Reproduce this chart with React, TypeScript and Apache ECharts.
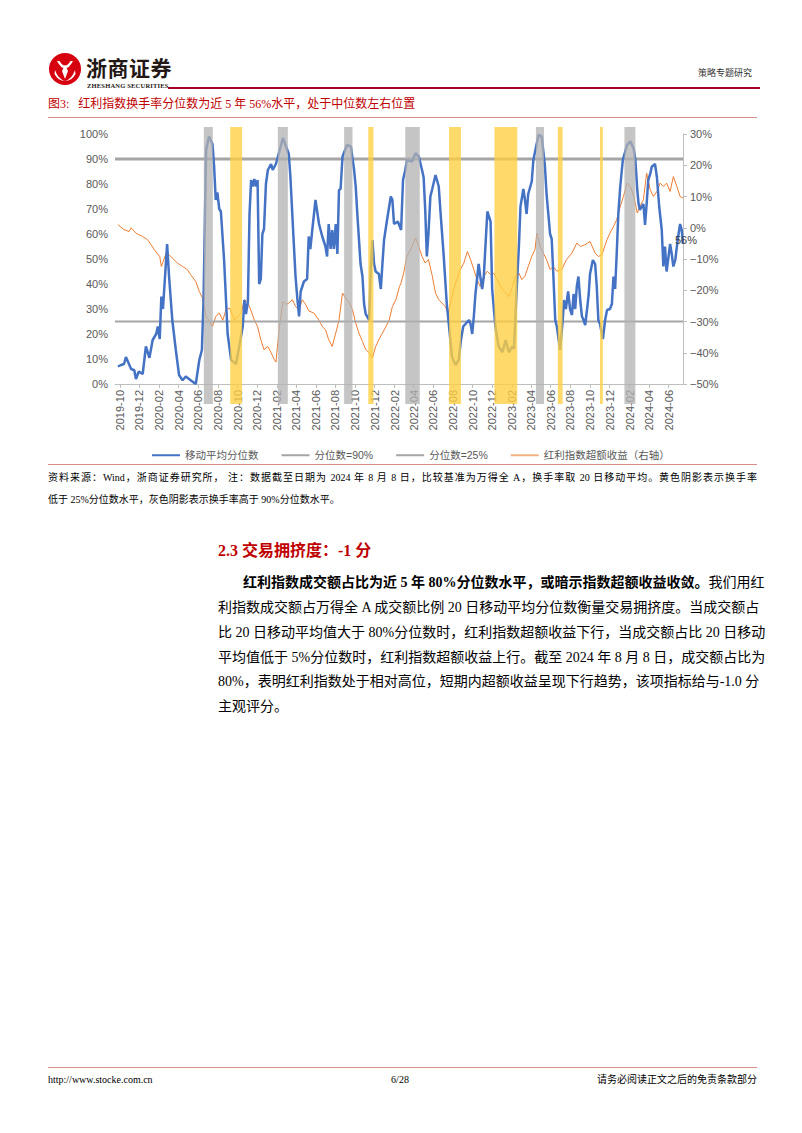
import React, { useEffect, useRef } from 'react';
import * as echarts from 'echarts';

// ---------- axis range (daily category axis) ----------
const AXIS_START = '2019-09-16';
const AXIS_END = '2024-07-16';

// ---------- turnover percentile (20d MA), left axis, % ----------
const turnoverDates = [
  '2019-09-25','2019-10-03','2019-10-14','2019-10-20','2019-11-05','2019-11-15','2019-11-20','2019-11-29','2019-12-11','2019-12-21',
  '2020-01-01','2020-01-11','2020-01-22','2020-01-27','2020-02-02','2020-02-07','2020-02-12','2020-02-17','2020-02-25','2020-03-02',
  '2020-03-12','2020-03-23','2020-04-02','2020-04-13','2020-04-23','2020-05-08','2020-05-24','2020-06-04','2020-06-12','2020-06-17',
  '2020-06-25','2020-07-04','2020-07-15','2020-07-20','2020-07-25','2020-07-30','2020-08-05','2020-08-10','2020-08-20','2020-08-31',
  '2020-09-11','2020-09-26','2020-10-06','2020-10-17','2020-10-22','2020-10-27','2020-11-02','2020-11-07','2020-11-12','2020-11-17',
  '2020-11-22','2020-11-27','2020-12-02','2020-12-07','2020-12-12','2020-12-17','2020-12-22','2020-12-28','2021-01-03','2021-01-13',
  '2021-01-18','2021-01-28','2021-02-19','2021-03-09','2021-03-14','2021-03-24','2021-03-30','2021-04-05','2021-04-10','2021-04-15',
  '2021-04-25','2021-05-05','2021-05-10','2021-05-15','2021-05-21','2021-05-31','2021-06-11','2021-06-21','2021-07-01','2021-07-06',
  '2021-07-11','2021-07-17','2021-07-22','2021-07-27','2021-08-02','2021-08-07','2021-08-12','2021-08-17','2021-08-23','2021-09-06',
  '2021-09-18','2021-09-28','2021-10-03','2021-10-08','2021-10-18','2021-10-24','2021-10-29','2021-11-03','2021-11-14','2021-11-19',
  '2021-11-24','2021-11-29','2021-12-04','2021-12-14','2021-12-20','2021-12-25','2021-12-30','2022-01-10','2022-01-20','2022-01-25',
  '2022-01-30','2022-02-11','2022-02-21','2022-02-27','2022-03-06','2022-03-11','2022-03-27','2022-04-07','2022-04-17','2022-04-27',
  '2022-05-02','2022-05-07','2022-05-12','2022-05-17','2022-05-23','2022-05-28','2022-06-08','2022-06-18','2022-06-23','2022-07-03',
  '2022-07-13','2022-07-18','2022-07-29','2022-08-09','2022-08-19','2022-08-26','2022-09-02','2022-09-09','2022-09-20','2022-09-25',
  '2022-09-30','2022-10-05','2022-10-10','2022-10-20','2022-10-25','2022-10-31','2022-11-05','2022-11-16','2022-11-21','2022-11-26',
  '2022-12-01','2022-12-11','2022-12-21','2023-01-02','2023-01-12','2023-01-22','2023-02-02','2023-02-07','2023-02-15','2023-02-22',
  '2023-02-27','2023-03-08','2023-03-13','2023-03-18','2023-03-23','2023-04-03','2023-04-08','2023-04-24','2023-05-04','2023-05-14',
  '2023-05-19','2023-05-30','2023-06-04','2023-06-09','2023-06-15','2023-06-20','2023-06-30','2023-07-08','2023-07-12','2023-07-18',
  '2023-07-25','2023-07-31','2023-08-06','2023-08-11','2023-08-16','2023-08-21','2023-08-26','2023-09-01','2023-09-06','2023-09-11',
  '2023-09-16','2023-09-22','2023-09-27','2023-10-01','2023-10-10','2023-10-17','2023-10-22','2023-10-27','2023-11-01','2023-11-10',
  '2023-11-17','2023-11-23','2023-12-02','2023-12-08','2023-12-13','2023-12-18','2023-12-23','2023-12-28','2024-01-03','2024-01-11',
  '2024-01-24','2024-02-04','2024-02-14','2024-02-19','2024-02-25','2024-02-29','2024-03-04','2024-03-10','2024-03-15','2024-03-20',
  '2024-03-25','2024-03-30','2024-04-05','2024-04-10','2024-04-20','2024-04-26','2024-05-03','2024-05-11','2024-05-16','2024-05-21',
  '2024-05-26','2024-06-01','2024-06-06','2024-06-11','2024-06-16','2024-06-22','2024-06-27','2024-07-01','2024-07-07','2024-07-12',
  '2024-07-16',
];
const turnoverPct = [
  7, 7.5, 8, 10.8, 6, 5.5, 2, 5, 4, 15,
  10.5, 17.6, 20, 23, 18, 35, 30, 40, 56, 43,
  25.6, 13.6, 3.6, 1.5, 3, 1.5, 0, 9.6, 13.6, 33,
  93.6, 99, 96, 87, 73.6, 76.6, 70, 69, 49.6, 20,
  9.6, 8, 15, 23, 33.6, 28, 33, 68, 81.6, 79,
  82, 79, 81.6, 40, 42, 60, 62, 80, 85.6, 88,
  85.6, 88, 98.4, 92, 83, 57.6, 43, 33.6, 27, 37,
  41, 42, 59, 54, 61.6, 73.6, 64, 59, 55, 51,
  64, 54, 61.6, 54, 64, 52, 77.6, 78, 91, 95.6,
  95, 85.6, 79, 68, 48, 43, 32, 28, 25.6, 47,
  57.6, 48, 45, 44, 38, 48, 57.6, 67, 75, 73.6,
  64, 65, 61.6, 81.6, 85.6, 89.6, 89, 92.3, 91, 85.6,
  82.7, 69.6, 51, 60, 75, 77.6, 83.6, 79, 69.6, 52,
  32, 25.6, 11, 7.6, 9.6, 17.6, 23, 24, 25.6, 24,
  20, 27, 36, 48, 43, 38, 43, 69, 67, 65,
  38, 23, 15, 12.7, 17.6, 12.7, 15, 14, 37.6, 55,
  71, 78, 73.6, 68, 76, 81, 89.6, 99.6, 99, 87,
  76, 60, 58, 44, 25.6, 23, 13.6, 25, 33.6, 30,
  37, 30, 27.6, 36, 30, 39, 43, 33, 27, 25.6,
  23.6, 30, 36, 44, 49.6, 48, 39, 25.6, 24, 18,
  25.6, 29.6, 30, 32, 43, 38, 52, 68, 79, 89.6,
  95.6, 97, 94, 89.6, 77.6, 72, 69.6, 71, 72, 63.6,
  72, 81.6, 84, 86.9, 88, 82.7, 71, 61.6, 47, 55,
  45, 51, 56, 52, 47, 49.6, 55, 59, 64, 61.6,
  56,
];

// ---------- dividend index excess return, right axis, % ----------
const excessDates = [
  '2019-09-25','2019-10-14','2019-10-30','2019-11-05','2019-11-20','2019-11-29','2019-12-11','2019-12-26','2020-01-06','2020-01-16',
  '2020-02-02','2020-02-07','2020-02-12','2020-02-22','2020-03-02','2020-03-12','2020-03-28','2020-04-13','2020-04-28','2020-05-08',
  '2020-05-24','2020-06-04','2020-06-14','2020-06-25','2020-07-04','2020-07-15','2020-07-25','2020-08-05','2020-08-16','2020-08-26',
  '2020-09-06','2020-09-21','2020-10-01','2020-10-12','2020-10-22','2020-11-02','2020-11-12','2020-11-22','2020-12-02','2020-12-12',
  '2020-12-22','2021-01-03','2021-01-13','2021-01-23','2021-01-28','2021-02-08','2021-02-19','2021-02-28','2021-03-09','2021-03-20',
  '2021-03-30','2021-04-10','2021-04-20','2021-04-30','2021-05-10','2021-05-26','2021-06-11','2021-06-21','2021-07-01','2021-07-11',
  '2021-07-22','2021-08-02','2021-08-12','2021-08-23','2021-09-02','2021-09-13','2021-09-23','2021-10-03','2021-10-13','2021-10-24',
  '2021-11-03','2021-11-14','2021-11-24','2021-12-04','2021-12-14','2021-12-25','2022-01-05','2022-01-15','2022-01-25','2022-02-05',
  '2022-02-16','2022-02-21','2022-03-01','2022-03-11','2022-03-27','2022-04-07','2022-04-17','2022-04-27','2022-05-07','2022-05-17',
  '2022-05-28','2022-06-08','2022-06-18','2022-06-28','2022-07-08','2022-07-18','2022-07-29','2022-08-09','2022-08-24','2022-09-04',
  '2022-09-15','2022-09-25','2022-10-05','2022-10-15','2022-10-25','2022-11-05','2022-11-16','2022-11-26','2022-12-06','2022-12-16',
  '2023-01-02','2023-01-12','2023-01-22','2023-02-02','2023-02-12','2023-02-22','2023-03-03','2023-03-13','2023-03-23','2023-04-03',
  '2023-04-13','2023-04-19','2023-04-29','2023-05-09','2023-05-19','2023-05-30','2023-06-09','2023-06-20','2023-07-05','2023-07-20',
  '2023-08-06','2023-08-21','2023-09-01','2023-09-16','2023-10-01','2023-10-17','2023-10-27','2023-11-07','2023-11-23','2023-12-02',
  '2023-12-13','2023-12-23','2024-01-03','2024-01-13','2024-01-24','2024-02-04','2024-02-14','2024-02-25','2024-03-04','2024-03-15',
  '2024-03-25','2024-04-05','2024-04-15','2024-04-26','2024-05-06','2024-05-16','2024-05-26','2024-06-06','2024-06-16','2024-06-27',
  '2024-07-07','2024-07-16',
];
const excessPct = [
  1, -0.6, -1.2, 0, -1.7, -2.2, -2.8, -3.8, -5.4, -7,
  -9.2, -12.4, -11, -8.1, -8.6, -9.7, -11.3, -12.4, -13.4, -15,
  -17.2, -20.4, -22.5, -28.4, -29.6, -31.6, -28.4, -27.3, -29.6, -26.2,
  -25.7, -29.6, -28.5, -27.3, -23, -24, -26.6, -29.6, -31.6, -35.8,
  -39, -38, -40, -42.2, -43, -31.6, -23.6, -24.5, -24.1, -23,
  -25.2, -26.2, -23, -24.5, -26.6, -27.3, -29.6, -31.6, -32.6, -35.8,
  -38, -33.7, -29.6, -20.9, -22.5, -24.1, -26.2, -30.5, -33.7, -36.4,
  -39, -40, -41.7, -38, -35.8, -33.7, -31.6, -29.6, -25.2, -23,
  -18.8, -17.7, -14.5, -9.2, -6, -3.3, -6, -9.2, -11.3, -10.2,
  -15, -20.9, -23, -24.1, -25.2, -27.3, -22, -17.7, -13.4, -11.3,
  -7.6, -10.2, -13.4, -16.6, -18.8, -15.5, -13.9, -15, -14.5, -16.6,
  -19.8, -20.9, -22, -18.8, -15.5, -14.5, -16.6, -15.5, -12.4, -9.2,
  -7, -1.7, -6, -8.1, -10.2, -13.4, -12.4, -13.9, -13.4, -10.2,
  -8.1, -4.9, -6, -5.4, -4.4, -8.1, -9.2, -8.6, -3.8, -1.7,
  0.4, 2.6, 6.8, 10, 14.3, 13.2, 10, 4.7, 6.8, 9,
  17.5, 12.2, 10, 11.6, 14.3, 13.2, 14.3, 11.6, 16.4, 13.2,
  10, 9.5,
];

// ---------- thresholds ----------
const P90 = 90;
const P25 = 25;

// ---------- shaded periods ----------
const highTurnoverPeriods = [ // turnover above 90th percentile (grey)
  ['2020-06-18', '2020-07-16'],
  ['2021-02-03', '2021-03-06'],
  ['2021-08-28', '2021-09-23'],
  ['2022-03-06', '2022-04-20'],
  ['2023-04-16', '2023-05-11'],
  ['2024-01-16', '2024-02-19'],
];
const lowTurnoverPeriods = [ // turnover below 25th percentile (yellow)
  ['2020-09-08', '2020-10-15'],
  ['2021-11-11', '2021-11-27'],
  ['2022-07-20', '2022-08-26'],
  ['2022-12-08', '2023-02-17'],
  ['2023-06-23', '2023-07-08'],
  ['2023-11-01', '2023-11-10'],
];

const SERIES_NAMES = ['移动平均分位数', '分位数=90%', '分位数=25%', '红利指数超额收益（右轴）'];

function buildDays(start: string, end: string): string[] {
  const out: string[] = [];
  const d = new Date(start + 'T00:00:00Z');
  const e = new Date(end + 'T00:00:00Z');
  while (d.getTime() <= e.getTime()) {
    out.push(d.toISOString().slice(0, 10));
    d.setUTCDate(d.getUTCDate() + 1);
  }
  return out;
}

const CHART_FONT = '"Liberation Sans", Arial, "Noto Sans CJK SC", sans-serif';
const PAGE_FONT = '"Liberation Serif", "Times New Roman", "Noto Sans CJK SC", serif';
const RED = '#C00000';

function Chart() {
  const ref = useRef<HTMLDivElement>(null);
  useEffect(() => {
    if (!ref.current) return;
    const chart = echarts.init(ref.current, null, { renderer: 'svg' });
    const days = buildDays(AXIS_START, AXIS_END);
    const idx: Record<string, number> = {};
    days.forEach((d, i) => { idx[d] = i; });
    const isLabelDay = (_i: number, v: string) =>
      v.slice(8) === '01' && parseInt(v.slice(5, 7), 10) % 2 === 0;
    const last = days.length - 1;

    const blue = turnoverDates.map((d, i) => [idx[d], turnoverPct[i]]);
    const orange = excessDates.map((d, i) => [idx[d], excessPct[i]]);

    const bandAreas = [
      ...highTurnoverPeriods.map(([a, b]) => [
        { xAxis: a, itemStyle: { color: 'rgba(178,178,178,0.75)' } },
        { xAxis: b },
      ]),
      ...lowTurnoverPeriods.map(([a, b]) => [
        { xAxis: a, itemStyle: { color: 'rgba(255,208,64,0.78)' } },
        { xAxis: b },
      ]),
    ];

    const option: any = {
      animation: false,
      textStyle: { fontFamily: CHART_FONT },
      grid: [
        { left: 115, right: 119, top: 16, height: 250 },
        { left: 115, right: 119, top: 9, height: 277 },
      ],
      legend: {
        top: 327,
        left: 146,
        itemWidth: 28,
        itemHeight: 10,
        itemGap: 22,
        itemStyle: { opacity: 0 },
        textStyle: { color: '#595959', fontSize: 10.5, fontFamily: CHART_FONT },
        data: [
          { name: SERIES_NAMES[0] },
          { name: SERIES_NAMES[1] },
          { name: SERIES_NAMES[2] },
          { name: SERIES_NAMES[3], lineStyle: { color: '#F4B183', width: 2 } },
        ],
      },
      xAxis: [
        {
          type: 'category',
          gridIndex: 0,
          data: days,
          boundaryGap: false,
          axisLine: { show: true, lineStyle: { color: '#BFBFBF', width: 1 } },
          axisTick: { show: true, interval: isLabelDay, length: 4, lineStyle: { color: '#BFBFBF' } },
          axisLabel: {
            interval: isLabelDay,
            rotate: 90,
            margin: 6,
            color: '#595959',
            fontSize: 11,
            formatter: (v: string) => v.slice(0, 7),
          },
          splitLine: { show: false },
        },
        { type: 'category', gridIndex: 1, data: days, boundaryGap: false, show: false },
      ],
      yAxis: [
        {
          type: 'value',
          gridIndex: 0,
          min: 0,
          max: 100,
          interval: 10,
          axisLine: { show: false },
          axisTick: { show: false },
          splitLine: { show: false },
          axisLabel: { color: '#595959', fontSize: 11, margin: 7, formatter: '{value}%' },
        },
        {
          type: 'value',
          gridIndex: 0,
          position: 'right',
          min: -50,
          max: 30,
          interval: 10,
          axisLine: { show: true, lineStyle: { color: '#BFBFBF' } },
          axisTick: { show: true, length: 4, lineStyle: { color: '#BFBFBF' } },
          splitLine: { show: false },
          axisLabel: {
            color: '#595959',
            fontSize: 11,
            margin: 7,
            formatter: (v: number) => (v < 0 ? '\u2212' + Math.abs(v) : String(v)) + '%',
          },
        },
        { type: 'value', gridIndex: 1, min: 0, max: 1, show: false },
      ],
      series: [
        {
          name: SERIES_NAMES[3],
          type: 'line',
          xAxisIndex: 0,
          yAxisIndex: 1,
          data: orange,
          symbol: 'none',
          z: 2,
          lineStyle: { color: '#ED7D31', width: 1 },
          itemStyle: { color: '#ED7D31' },
        },
        {
          name: SERIES_NAMES[1],
          type: 'line',
          xAxisIndex: 0,
          yAxisIndex: 0,
          data: [[0, P90], [last, P90]],
          symbol: 'none',
          z: 2,
          lineStyle: { color: '#A5A5A5', width: 3 },
          itemStyle: { color: '#A5A5A5' },
        },
        {
          name: SERIES_NAMES[2],
          type: 'line',
          xAxisIndex: 0,
          yAxisIndex: 0,
          data: [[0, P25], [last, P25]],
          symbol: 'none',
          z: 2,
          lineStyle: { color: '#A5A5A5', width: 2 },
          itemStyle: { color: '#A5A5A5' },
        },
        {
          name: SERIES_NAMES[0],
          type: 'line',
          xAxisIndex: 0,
          yAxisIndex: 0,
          data: blue,
          symbol: 'none',
          z: 3,
          lineStyle: { color: '#4472C4', width: 2.5 },
          itemStyle: { color: '#4472C4' },
          endLabel: {
            show: true,
            formatter: (p: any) => p.value[1] + '%',
            color: '#404040',
            fontSize: 11,
            distance: 0,
            offset: [-8, -4],
          },
        },
        {
          type: 'line',
          xAxisIndex: 1,
          yAxisIndex: 2,
          data: [],
          silent: true,
          z: 10,
          markArea: { silent: true, z: 10, data: bandAreas },
        },
      ],
    };
    chart.setOption(option);
    return () => chart.dispose();
  }, []);
  return <div ref={ref} style={{ position: 'absolute', left: 0, top: 118, width: 802, height: 345 }} />;
}

const abs = (o: React.CSSProperties): React.CSSProperties => ({ position: 'absolute', ...o });

const paraLines = [
  '利指数成交额占万得全 A 成交额比例 20 日移动平均分位数衡量交易拥挤度。当成交额占',
  '比 20 日移动平均值大于 80%分位数时，红利指数超额收益下行，当成交额占比 20 日移动',
  '平均值低于 5%分位数时，红利指数超额收益上行。截至 2024 年 8 月 8 日，成交额占比为',
  '80%，表明红利指数处于相对高位，短期内超额收益呈现下行趋势，该项指标给与-1.0 分',
];

export default function App() {
  const justify: React.CSSProperties = { textAlign: 'justify', textAlignLast: 'justify', whiteSpace: 'nowrap' };
  return (
    <div style={abs({ left: 0, top: 0, width: 802, height: 1133, background: '#fff', overflow: 'hidden', fontFamily: PAGE_FONT, color: '#000' })}>
      {/* header logo */}
      <svg style={abs({ left: 48, top: 52 })} width="34" height="34" viewBox="0 0 34 34">
        <circle cx="17" cy="17" r="16" fill="#D7000F" />
        <path d="M9 9 Q17 24 25 9 L22.5 9 Q17 18 11.5 9 Z" fill="#fff" />
        <path d="M17 13 L20 19 L17 27 L14 19 Z" fill="#fff" />
        <path d="M7 18 Q10 27 17 29 Q10 29 6.5 22 Z" fill="#fff" />
        <path d="M27 18 Q24 27 17 29 Q24 29 27.5 22 Z" fill="#fff" />
      </svg>
      <div style={abs({ left: 86, top: 54, fontSize: 21, fontWeight: 700, letterSpacing: 0.5, color: '#231815', fontFamily: '"Noto Sans CJK SC", sans-serif', lineHeight: '26px' })}>浙商证券</div>
      <div style={abs({ left: 87, top: 82, fontSize: 6.5, fontWeight: 700, letterSpacing: 0.2, color: '#231815', lineHeight: '8px' })}>ZHESHANG SECURITIES</div>
      <div style={abs({ left: 168, top: 87, width: 592, height: 2, background: '#A50021' })} />
      <div style={abs({ left: 690, top: 67, width: 62, textAlign: 'right', fontSize: 9, lineHeight: '12px', color: '#333' })}>策略专题研究</div>

      {/* figure title */}
      <div style={abs({ left: 48, top: 96, fontSize: 12, lineHeight: '16px', color: RED, whiteSpace: 'nowrap' })}>
        图3:&nbsp;&nbsp;&nbsp;红利指数换手率分位数为近 5 年 56%水平，处于中位数左右位置
      </div>
      <div style={abs({ left: 48, top: 117, width: 709, height: 1, background: '#D98C8C' })} />

      <Chart />

      <div style={abs({ left: 48, top: 464, width: 709, height: 1, background: '#D98C8C' })} />
      <div style={abs({ left: 48, top: 471, width: 709, fontSize: 10, lineHeight: '14px', ...justify })}>
        资料来源：Wind，浙商证券研究所， 注：数据截至日期为 2024 年 8 月 8 日，比较基准为万得全 A，换手率取 20 日移动平均。黄色阴影表示换手率
      </div>
      <div style={abs({ left: 48, top: 493, fontSize: 10, lineHeight: '14px', whiteSpace: 'nowrap' })}>
        低于 25%分位数水平，灰色阴影表示换手率高于 90%分位数水平。
      </div>

      {/* section */}
      <div style={abs({ left: 218, top: 540, fontSize: 16, lineHeight: '22px', fontWeight: 700, color: RED, whiteSpace: 'nowrap' })}>
        2.3 交易拥挤度：-1 分
      </div>
      <div style={abs({ left: 243, top: 573, width: 509, fontSize: 14, lineHeight: '20px', ...justify })}>
        <b>红利指数成交额占比为近 5 年 80%分位数水平，或暗示指数超额收益收敛。</b>我们用红
      </div>
      {paraLines.map((t, i) => (
        <div key={i} style={abs({ left: 218, top: 598 + i * 24.8, width: 534, fontSize: 14, lineHeight: '20px', ...justify })}>
          {t}
        </div>
      ))}
      <div style={abs({ left: 218, top: 697, fontSize: 14, lineHeight: '20px', whiteSpace: 'nowrap' })}>主观评分。</div>

      {/* footer */}
      <div style={abs({ left: 48, top: 1067, width: 709, height: 1, background: '#D98C8C' })} />
      <div style={abs({ left: 48, top: 1073, fontSize: 10, lineHeight: '14px' })}>http://www.stocke.com.cn</div>
      <div style={abs({ left: 380, top: 1073, width: 40, textAlign: 'center', fontSize: 10, lineHeight: '14px' })}>6/28</div>
      <div style={abs({ left: 557, top: 1073, width: 200, textAlign: 'right', fontSize: 10, lineHeight: '14px' })}>请务必阅读正文之后的免责条款部分</div>
    </div>
  );
}
